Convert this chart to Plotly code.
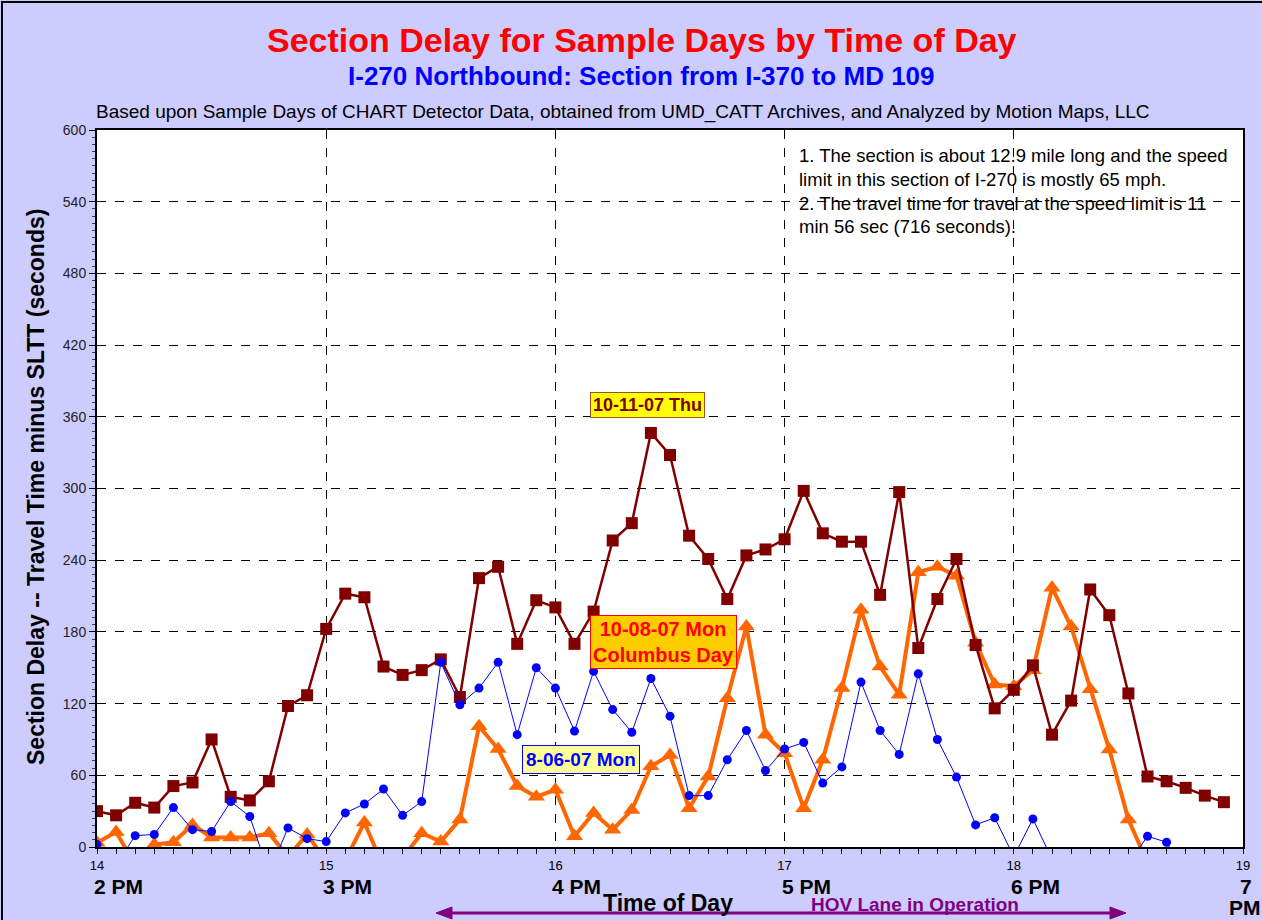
import plotly.graph_objects as go

times = ["14:00","14:05","14:10","14:15","14:20","14:25","14:30","14:35","14:40","14:45",
         "14:50","14:55","15:00","15:05","15:10","15:15","15:20","15:25","15:30","15:35",
         "15:40","15:45","15:50","15:55","16:00","16:05","16:10","16:15","16:20","16:25",
         "16:30","16:35","16:40","16:45","16:50","16:55","17:00","17:05","17:10","17:15",
         "17:20","17:25","17:30","17:35","17:40","17:45","17:50","17:55","18:00","18:05",
         "18:10","18:15","18:20","18:25","18:30","18:35","18:40","18:45","18:50","18:55"]

thu_1011 = [30, 26.5, 37, 33, 51, 54, 90, 42, 39, 55,
            118, 127, 182.5, 212, 209, 151, 144, 148, 157, 125.5,
            225, 234.5, 170, 206.5, 200.5, 170, 197, 256.5, 271, 346.5,
            328, 260.5, 241, 207.5, 244, 249, 257.5, 298, 262.5, 255.5,
            255.5, 211, 297, 166.5, 207.5, 241, 169, 116, 131.5, 152,
            94, 122.5, 215.5, 194, 128.5, 59, 55, 49.5, 43, 37.5]

mon_0806 = [2, -15, 9.5, 10.5, 33, 14.5, 13, 38, 25.5, -22,
            16, 7, 4.5, 28.5, 36, 48.5, 26.5, 38, 154.5, 119,
            133, 154.5, 94, 150, 133, 97, 147, 115, 96, 141,
            109.5, 43, 43, 73, 97.5, 64, 82, 87.5, 53.5, 67,
            138, 97.5, 77.5, 145, 90, 58.5, 18.5, 24.5, -8, 23.5,
            -10, -20, -25, -20, -14, 9, 4, -25, -30, -30]

mon_1008 = [3.5, 12.5, -15, 2, 4, 18.5, 8, 8, 8, 11.5,
            -8, 10.5, -12, -11, 20.5, -17, -9, 11.5, 4.5, 23,
            101, 82, 51, 42, 48, 9, 28.5, 14.5, 31, 67.5,
            77, 32.5, 59, 124.5, 184.5, 94, 78.5, 32.5, 73, 133,
            198.5, 151, 127.5, 230, 234.5, 227, 171, 136, 134.5, 148,
            217, 184.5, 132, 81.5, 23, -13, -35, -40, -40, -40]

hour_ticks = [14, 15, 16, 17, 18, 19]
hour_labels = ["2 PM", "3 PM", "4 PM", "5 PM", "6 PM", "7"]
y_ticks = [0, 60, 120, 180, 240, 300, 360, 420, 480, 540, 600]

x = [int(t.split(":")[0]) + int(t.split(":")[1]) / 60 for t in times]

FONT = "Liberation Sans, Arial, sans-serif"

fig = go.Figure()
fig.add_trace(go.Scatter(x=x, y=mon_1008, mode="lines+markers", name="10-08-07 Mon",
                         line=dict(color="#FF6600", width=4),
                         marker=dict(symbol="triangle-up", size=15, color="#FF6600"),
                         cliponaxis=True))
fig.add_trace(go.Scatter(x=x, y=thu_1011, mode="lines+markers", name="10-11-07 Thu",
                         line=dict(color="#800000", width=2.5),
                         marker=dict(symbol="square", size=12, color="#800000"),
                         cliponaxis=True))
fig.add_trace(go.Scatter(x=x, y=mon_0806, mode="lines+markers", name="8-06-07 Mon",
                         line=dict(color="#0000FF", width=1),
                         marker=dict(symbol="circle", size=9, color="#0000FF"),
                         cliponaxis=True))

L, R, T, B = 97, 19, 130, 73
PW, PH = 1262 - L - R, 920 - T - B

def px(p):
    return (p - L) / PW

def py(p):
    return (920 - B - p) / PH

fig.update_layout(
    width=1262, height=920,
    margin=dict(l=L, r=R, t=T, b=B, autoexpand=False),
    paper_bgcolor="#CCCCFF", plot_bgcolor="white",
    showlegend=False,
    font=dict(family=FONT, color="black"),
)
fig.update_xaxes(range=[14, 19], tickvals=hour_ticks, ticktext=[str(h) for h in hour_ticks],
                 tickfont=dict(size=13, family=FONT, color="black"),
                 showgrid=True, gridcolor="black", griddash="dash", gridwidth=1,
                 showline=True, linecolor="black", linewidth=2, mirror=True,
                 ticks="outside", ticklen=5, tickcolor="black",
                 minor=dict(dtick=5 / 60, ticks="outside", ticklen=5, tickcolor="black", showgrid=False),
                 zeroline=False)
fig.update_yaxes(range=[0, 600], tickvals=y_ticks,
                 tickfont=dict(size=14, family=FONT, color="#222"),
                 showgrid=True, gridcolor="black", griddash="dash", gridwidth=1,
                 showline=True, linecolor="black", linewidth=2, mirror=True,
                 ticks="outside", ticklen=6, tickcolor="black",
                 minor=dict(dtick=6, ticks="outside", ticklen=3, tickcolor="#444", showgrid=False),
                 zeroline=False)

ann = []
# titles
ann.append(dict(text="<b>Section Delay for Sample Days by Time of Day</b>", x=px(642), y=py(40),
                font=dict(size=34, color="#FF0000", family=FONT)))
ann.append(dict(text="<b>I-270 Northbound: Section from I-370 to MD 109</b>", x=px(641), y=py(76),
                font=dict(size=26, color="#0000FF", family=FONT)))
ann.append(dict(text="Based upon Sample Days of CHART Detector Data, obtained from UMD_CATT Archives, and Analyzed by Motion Maps, LLC",
                x=px(623), y=py(112), font=dict(size=19, color="black", family=FONT)))
# y axis title
ann.append(dict(text="<b>Section Delay -- Travel Time minus SLTT (seconds)</b>", x=px(36), y=py(487),
                textangle=-90, font=dict(size=23, color="black", family=FONT)))
# x labels
for h, lab in zip(hour_ticks, hour_labels):
    ann.append(dict(text="<b>%s</b>" % lab, x=h, xref="x", y=py(886), xanchor="left", xshift=-5,
                    font=dict(size=21, color="black", family=FONT)))
ann.append(dict(text="<b>PM</b>", x=19, xref="x", y=py(907), xanchor="left", xshift=-16,
                font=dict(size=21, color="black", family=FONT)))
ann.append(dict(text="<b>Time of Day</b>", x=px(668), y=py(903),
                font=dict(size=23, color="black", family=FONT)))
ann.append(dict(text="<b>HOV Lane in Operation</b>", x=px(915), y=py(904),
                font=dict(size=19, color="#800080", family=FONT)))
# notes
notes = ["1. The section is about 12.9 mile long and the speed",
         "limit in this section of I-270 is mostly 65 mph.",
         "2. The travel time for travel at the speed limit is 11",
         "min 56 sec (716 seconds)."]
for i, n in enumerate(notes):
    ann.append(dict(text=n, x=px(797), y=py(155 + 24 * i), xanchor="left",
                    font=dict(size=18.5, color="black", family=FONT)))
# series labels
ann.append(dict(text="<b>10-11-07 Thu</b>", x=16.40, xref="x", y=370, yref="y",
                font=dict(size=18, color="#800000", family=FONT), bgcolor="#FFFF00",
                bordercolor="#A05020", borderwidth=1, borderpad=2))
ann.append(dict(text="<b>10-08-07 Mon<br>Columbus Day</b>", x=16.47, xref="x", y=171.5, yref="y",
                font=dict(size=20, color="#FF0000", family=FONT), bgcolor="#FFCC00",
                bordercolor="#FF0000", borderwidth=1, borderpad=2))
ann.append(dict(text="<b>8-06-07 Mon</b>", x=16.11, xref="x", y=73.6, yref="y",
                font=dict(size=19, color="#0000FF", family=FONT), bgcolor="#FFFF99",
                bordercolor="#0000FF", borderwidth=1, borderpad=3))

for a in ann:
    a.setdefault("xref", "paper")
    a.setdefault("yref", "paper")
    a.setdefault("showarrow", False)
    a.setdefault("xanchor", "center")
    a.setdefault("yanchor", "middle")
    fig.add_annotation(**a)

# double-headed arrow (shaft + two heads)
ARROW = "#800080"
fig.add_shape(type="line", xref="paper", yref="paper", x0=px(445), x1=px(1117), y0=py(913), y1=py(913),
              line=dict(color=ARROW, width=3), layer="above")
def head(tip, base):
    return "M %f,%f L %f,%f L %f,%f Z" % (px(tip), py(913), px(base), py(907), px(base), py(919))
fig.add_shape(type="path", xref="paper", yref="paper", path=head(1126, 1110),
              line=dict(color=ARROW, width=1), fillcolor=ARROW, layer="above")
fig.add_shape(type="path", xref="paper", yref="paper", path=head(436, 452),
              line=dict(color=ARROW, width=1), fillcolor=ARROW, layer="above")
# outer frame
fig.add_shape(type="rect", xref="paper", yref="paper", x0=px(2), x1=px(1275), y0=py(930), y1=py(2),
              line=dict(color="black", width=2), fillcolor="rgba(0,0,0,0)", layer="above")

fig.write_html("out.html", config={"displayModeBar": False},
               post_script="document.body.style.margin='0';document.body.style.overflow='hidden';")
